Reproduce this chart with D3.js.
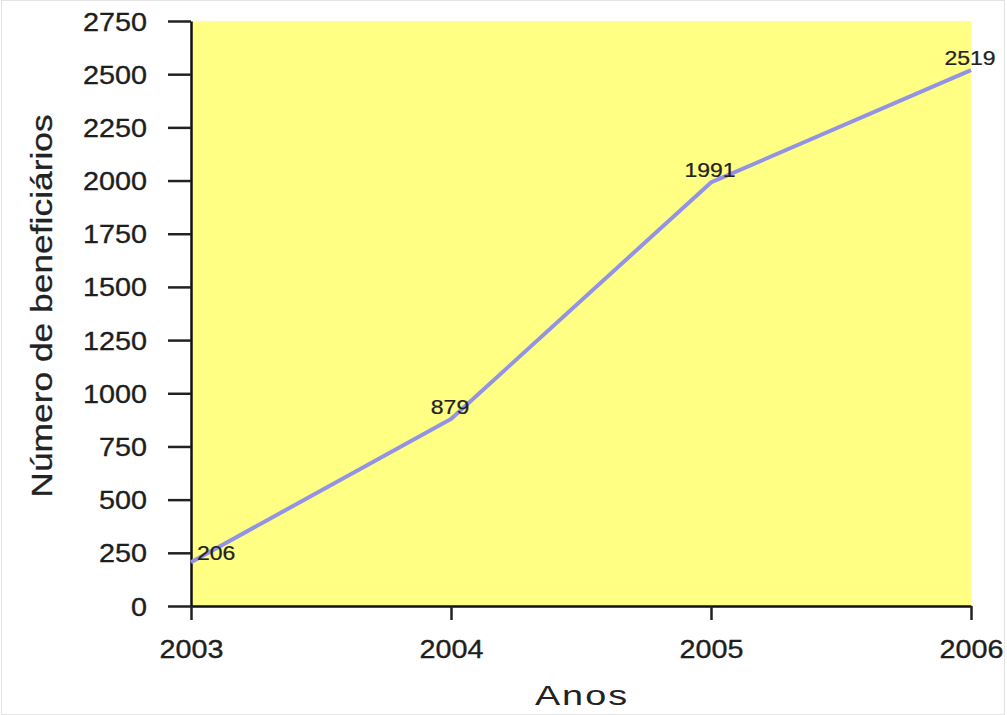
<!DOCTYPE html>
<html>
<head>
<meta charset="utf-8">
<script src="https://cdn.jsdelivr.net/npm/d3@7"></script>
<style>
  body { margin: 0; background: #fff; }
  svg { display: block; }
</style>
</head>
<body>
<div id="chart"></div>
<script>
(function(){

    // data
    var years = [2003, 2004, 2005, 2006];
    var beneficiarios = [206, 879, 1991, 2519];
    var yTicks = [0, 250, 500, 750, 1000, 1250, 1500, 1750, 2000, 2250, 2500, 2750];
    var yTitle = 'Número de beneficiários';
    var xTitle = 'Anos';

    var width = 1007;
    var height = 715;

    var margin = {
        top: 21,
        bottom: 109,
        left: 191,
        right: 36
    };

    var font = '"Liberation Sans", Arial, Helvetica, sans-serif';

    var svg = d3.select('#chart')
        .append('svg')
            .attr('width', width)
            .attr('height', height)
            .style('font-family', font);

    // faint frame round the picture
    svg.append('rect')
        .attr('x', 1.5)
        .attr('y', 0.5)
        .attr('width', width - 4)
        .attr('height', height - 1)
        .attr('fill', '#fff')
        .attr('stroke', '#e4e4e4');

    var innerW = width - margin.left - margin.right;
    var innerH = height - margin.top - margin.bottom;

    var g = svg.append('g')
        .attr('transform', 'translate(' + margin.left + ',' + margin.top + ')');

    var xScale = d3.scaleLinear()
        .domain([years[0], years[years.length - 1]])
        .range([0, innerW]);

    var yScale = d3.scaleLinear()
        .domain([0, yTicks[yTicks.length - 1]])
        .range([innerH, 0]);

    // the original text is stretched sideways, so widen glyphs in place
    function stretch(sel, k) {
        sel.each(function(){
            var t = d3.select(this);
            var x = parseFloat(t.attr('x')) || 0;
            t.attr('x', 0)
                .attr('transform', 'translate(' + x + ',0) scale(' + k + ',1)');
        });
    }

    g.append('rect')
        .attr('x', 0)
        .attr('y', 0)
        .attr('width', innerW)
        .attr('height', innerH)
        .attr('fill', '#ffff84');

    var yAxis = d3.axisLeft(yScale)
        .tickValues(yTicks)
        .tickSize(23)
        .tickSizeOuter(0)
        .tickPadding(21)
        .tickFormat(d3.format('d'));

    var xAxis = d3.axisBottom(xScale)
        .tickValues(years)
        .tickSize(14)
        .tickSizeOuter(0)
        .tickPadding(20)
        .tickFormat(d3.format('d'));

    var gy = g.append('g')
        .attr('class', 'y axis')
        .call(yAxis);

    var gx = g.append('g')
        .attr('class', 'x axis')
        .attr('transform', 'translate(0,' + innerH + ')')
        .call(xAxis);

    [gx, gy].forEach(function(ax){
        ax.select('.domain')
            .attr('stroke', '#111')
            .attr('stroke-width', 2.5);
        ax.selectAll('.tick line')
            .attr('stroke', '#222')
            .attr('stroke-width', 2.5);
        ax.selectAll('.tick text')
            .attr('fill', '#1e1e1e')
            .attr('stroke', '#1e1e1e')
            .attr('stroke-width', 0.35)
            .attr('font-size', '25px')
            .call(stretch, 1.15);
    });

    gy.selectAll('.tick text')
        .attr('dy', '0.36em');

    gx.selectAll('.tick text')
        .attr('dy', '0.72em');

    var line = d3.line()
        .x(function(d, i){ return xScale(years[i]); })
        .y(function(d){ return yScale(d); });

    g.append('path')
        .datum(beneficiarios)
        .attr('d', line)
        .attr('fill', 'none')
        .attr('stroke', '#9393e6')
        .attr('stroke-width', 4)
        .attr('stroke-linejoin', 'round');

    g.selectAll('.label')
        .data(beneficiarios)
        .enter()
        .append('text')
        .attr('class', 'label')
        .attr('x', function(d, i){
            return i === 0 ? xScale(years[i]) + 6 : xScale(years[i]) - 1;
        })
        .attr('y', function(d, i){
            return i === 0 ? yScale(d) - 2 : yScale(d) - 5;
        })
        .attr('text-anchor', function(d, i){
            return i === 0 ? 'start' : 'middle';
        })
        .attr('font-size', '20px')
        .attr('fill', '#222')
        .attr('stroke', '#222')
        .attr('stroke-width', 0.25)
        .text(function(d){ return d; })
        .call(stretch, 1.15);

    svg.append('text')
        .attr('transform', 'translate(52,306) rotate(-90) scale(1.22,1)')
        .attr('text-anchor', 'middle')
        .attr('font-size', '29px')
        .attr('fill', '#222')
        .attr('stroke', '#222')
        .attr('stroke-width', 0.3)
        .text(yTitle);

    svg.append('text')
        .attr('transform', 'translate(582,705) scale(1.35,1)')
        .attr('text-anchor', 'middle')
        .attr('font-size', '28px')
        .style('letter-spacing', '1.5px')
        .attr('fill', '#222')
        .text(xTitle);

})();
</script>
</body>
</html>
